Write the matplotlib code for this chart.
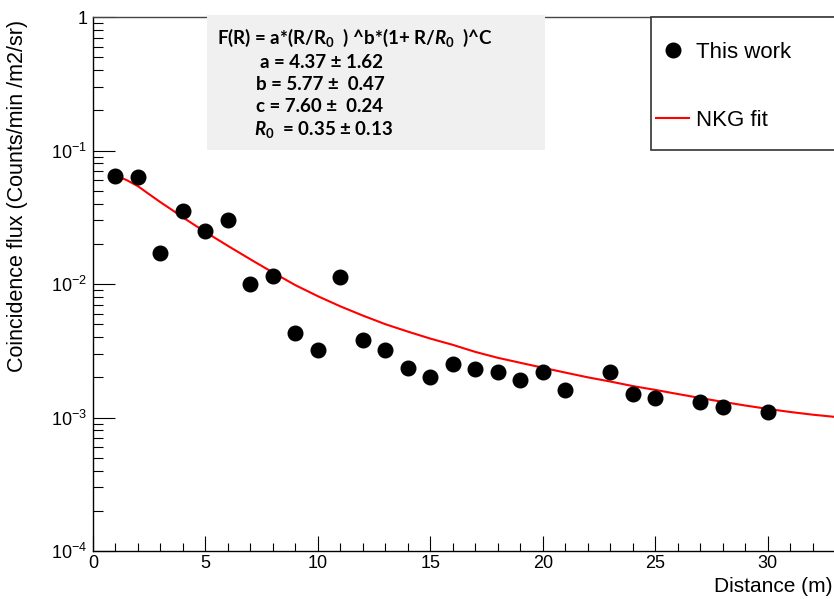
import matplotlib
matplotlib.use("Agg")
import matplotlib.pyplot as plt
from matplotlib.patches import Rectangle
from matplotlib.ticker import FixedLocator, MultipleLocator, LogLocator, NullFormatter

plt.rcParams['font.family'] = ['Liberation Sans', 'DejaVu Sans']
plt.rcParams['mathtext.fontset'] = 'custom'
plt.rcParams['mathtext.rm'] = 'Liberation Sans'
plt.rcParams['mathtext.it'] = 'Lato:bold:italic'
plt.rcParams['mathtext.bf'] = 'Lato:bold'

# Data
distance = [1, 2, 3, 4, 5, 6, 7, 8, 9, 10, 11, 12, 13, 14, 15, 16, 17, 18, 19, 20, 21, 23, 24, 25, 27, 28, 30]
flux = [0.064, 0.063, 0.017, 0.035, 0.025, 0.030, 0.010, 0.0115, 0.0043, 0.0032, 0.0113, 0.0038, 0.0032,
        0.00235, 0.0020, 0.0025, 0.0023, 0.0022, 0.0019, 0.0022, 0.0016, 0.0022, 0.0015, 0.0014, 0.0013,
        0.0012, 0.0011]

fit_x = [1, 1.5, 2, 2.5, 3, 3.5, 4, 5, 6, 7, 8, 9, 10, 11, 12, 13, 14, 15, 16, 17, 18, 19, 20, 21, 22,
         23, 24, 25, 26, 27, 28, 29, 30, 31, 32, 33]
fit_y = [0.065, 0.060, 0.054, 0.047, 0.041, 0.036, 0.0315, 0.0245, 0.0193, 0.0153, 0.0122, 0.0098,
         0.0081, 0.0068, 0.0058, 0.0050, 0.0044, 0.0039, 0.0035, 0.0031, 0.0028, 0.00257, 0.00236,
         0.00217, 0.0020, 0.00186, 0.00172, 0.00161, 0.00150, 0.00140, 0.00131, 0.00123, 0.00116,
         0.00110, 0.00105, 0.00101]

y_ticks = [1e-4, 1e-3, 1e-2, 1e-1, 1]
y_ticklabels = ["$10^{-4}$", "$10^{-3}$", "$10^{-2}$", "$10^{-1}$", "1"]
x_ticks = [0, 5, 10, 15, 20, 25, 30]

W, H = 834, 599
fig = plt.figure(figsize=(W / 100, H / 100), dpi=100)
ax = fig.add_axes([93 / W, 1 - 551 / H, 1 - 93 / W + 0.01, (551 - 17) / H])

ax.set_yscale('log')
ax.set_xlim(0, 32.95 * (1 + 0.01 / (1 - 93 / W)))
ax.set_ylim(1e-4, 1)

line, = ax.plot(fit_x, fit_y, color='#ff0000', lw=1.5, zorder=2)
pts, = ax.plot(distance, flux, 'o', color='black', ms=10.5, zorder=3, linestyle='none')

ax.xaxis.set_major_locator(FixedLocator(x_ticks))
ax.xaxis.set_minor_locator(MultipleLocator(1))
ax.set_yticks(y_ticks)
ax.set_yticklabels(y_ticklabels)
ax.yaxis.set_minor_locator(LogLocator(base=10, subs=range(2, 10)))
ax.yaxis.set_minor_formatter(NullFormatter())

ax.tick_params(axis='both', which='both', direction='in', top=False, right=False)
ax.tick_params(axis='y', which='major', length=16, width=0.8, labelsize=13, pad=4)
ax.tick_params(axis='y', which='minor', length=7, width=0.8)
ax.tick_params(axis='x', which='major', length=11, width=0.8, labelsize=13, pad=3)
ax.tick_params(axis='x', which='minor', length=5.5, width=0.8)

for s in ['left', 'bottom']:
    ax.spines[s].set_linewidth(1.0)
    ax.spines[s].set_color('black')
ax.spines['top'].set_color('#444444')
ax.spines['top'].set_linewidth(1.0)
ax.spines['right'].set_visible(False)

fig.text(18 / W, 1 - 20 / H, "Coincidence flux (Counts/min /m2/sr)", rotation=90,
         ha='center', va='top', fontsize=15.5)
fig.text(832 / W, 1 - 586 / H, "Distance (m)", ha='right', va='center', fontsize=15)

# formula box
ax.add_patch(Rectangle((207 / W, 1 - 150 / H), (545 - 207) / W, (150 - 15) / H,
                       transform=fig.transFigure, facecolor='#f0f0f0', edgecolor='none',
                       zorder=5, clip_on=False))
tfont = dict(family=['Lato', 'DejaVu Sans'], fontweight='bold', fontsize=13.5, zorder=6, va='center',
             transform=fig.transFigure, ha='left')
ax.text(217 / W, 1 - 38 / H, r"F(R) = a*(R/R$_\mathbf{0}$  ) ^b*(1+ R/$\mathit{R}_\mathbf{0}$  )^C", **tfont)
ax.text(260 / W, 1 - 62 / H, "a = 4.37 ± 1.62", **tfont)
ax.text(256 / W, 1 - 85 / H, "b = 5.77 ±  0.47", **tfont)
ax.text(256 / W, 1 - 107 / H, "c = 7.60 ±  0.24", **tfont)
ax.text(254 / W, 1 - 130 / H, r"$\mathit{R}_\mathbf{0}$  = 0.35 ± 0.13", **tfont)

# legend
ax.add_patch(Rectangle((651 / W, 1 - 150 / H), (860 - 651) / W, (150 - 17) / H,
                       transform=fig.transFigure, facecolor='white', edgecolor='#333333',
                       lw=1.2, zorder=5, clip_on=False))
leg = ax.legend([pts, line], ["This work", "NKG fit"], loc='upper left',
                bbox_to_anchor=(645 / W, 1 - 31 / H), bbox_transform=fig.transFigure,
                frameon=False, fontsize=16, handlelength=1.5, handletextpad=0.3,
                labelspacing=2.1, borderpad=0, markerscale=1.0)
leg.set_zorder(7)

fig.savefig("out.png", dpi=100)
